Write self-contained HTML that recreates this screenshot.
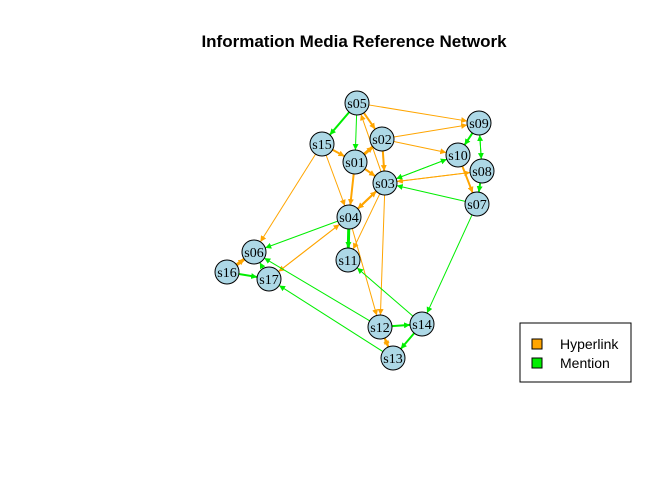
<!DOCTYPE html>
<html><head><meta charset="utf-8"><style>
body{margin:0;background:#fff}
svg text{font-family:"Liberation Serif",serif}
</style></head><body>
<svg id="c" width="672" height="480" xmlns="http://www.w3.org/2000/svg">
<defs>
<marker id="ao" viewBox="0 0 10 10" refX="10" refY="5" markerWidth="6" markerHeight="6" markerUnits="userSpaceOnUse" orient="auto"><path d="M0,0L10,5L0,10z" fill="orange"/></marker>
<marker id="ag" viewBox="0 0 10 10" refX="10" refY="5" markerWidth="6" markerHeight="6" markerUnits="userSpaceOnUse" orient="auto"><path d="M0,0L10,5L0,10z" fill="#00ee00"/></marker>
</defs>
<text x="354" y="47" text-anchor="middle" style="font-family:'Liberation Sans',sans-serif;font-weight:bold;font-size:17px">Information Media Reference Network</text>
<g id="edges"></g>
<g id="nodes"></g>
<g>
<rect x="520" y="323" width="111" height="59" fill="#fff" stroke="#000" stroke-width="1"/>
<rect x="532" y="339" width="10" height="10" fill="orange" stroke="#000"/>
<text x="560" y="349" style="font-family:'Liberation Sans',sans-serif;font-size:14px">Hyperlink</text>
<rect x="532" y="358" width="10" height="10" fill="#00ee00" stroke="#000"/>
<text x="560" y="368" style="font-family:'Liberation Sans',sans-serif;font-size:14px">Mention</text>
</g>
</svg>
<script>
const nodeIds=["s01","s02","s03","s04","s05","s06","s07","s08","s09","s10","s11","s12","s13","s14","s15","s16","s17"];
const nodeX=[355,382,385,349,357,254,477,482,479,458,348,380,393,422,322,227,269];
const nodeY=[162,139,183,217,103,252,204,171,123,155,260,327,358,324,144,272,279];
const edgeFrom=["s05","s05","s03","s02","s02","s02","s15","s01","s01","s01","s15","s15","s03","s04","s03","s03","s04","s04","s17","s08","s03","s10","s16","s13","s12","s05","s05","s09","s08","s09","s08","s07","s10","s03","s04","s04","s16","s17","s12","s13","s14","s07","s12","s14"];
const edgeTo=["s09","s02","s05","s09","s10","s03","s01","s02","s03","s04","s04","s06","s04","s03","s11","s12","s12","s17","s04","s03","s08","s07","s06","s12","s13","s15","s01","s10","s09","s08","s07","s03","s03","s10","s06","s11","s17","s06","s06","s17","s11","s14","s14","s13"];
const edgeType=["h","h","h","h","h","h","h","h","h","h","h","h","h","h","h","h","h","h","h","h","h","h","h","h","h","m","m","m","m","m","m","m","m","m","m","m","m","m","m","m","m","m","m","m"];
const edgeWidth=[1,2,1,1,1,2,2,3,2,2,1,1,2,2,1,1,1,1,1,1,1,2,3,2,2,2,1,2,1,1,2,1,1,1,1,3,2,1,1,1,1,1,2,2];
const NS="http://www.w3.org/2000/svg",R=12;
const eg=document.getElementById('edges'),ng=document.getElementById('nodes');
function pos(id){const i=nodeIds.indexOf(id);return [nodeX[i],nodeY[i]];}
edgeFrom.forEach((f,i)=>{
 const [x1,y1]=pos(f),[x2,y2]=pos(edgeTo[i]);
 const dx=x2-x1,dy=y2-y1,d=Math.hypot(dx,dy),ux=dx/d,uy=dy/d;
 const l=document.createElementNS(NS,'line');
 l.setAttribute('x1',x1+ux*R);l.setAttribute('y1',y1+uy*R);
 l.setAttribute('x2',x2-ux*R);l.setAttribute('y2',y2-uy*R);
 const h=edgeType[i]==='h';
 l.setAttribute('stroke',h?'orange':'#00ee00');
 l.setAttribute('stroke-width',edgeWidth[i]);
 l.setAttribute('marker-end',h?'url(#ao)':'url(#ag)');
 
 
 eg.appendChild(l);
});
nodeIds.forEach((id,i)=>{
 const c=document.createElementNS(NS,'circle');
 c.setAttribute('cx',nodeX[i]);c.setAttribute('cy',nodeY[i]);c.setAttribute('r',R);
 c.setAttribute('fill','#add8e6');c.setAttribute('stroke','#000');
 
 
 ng.appendChild(c);
 const t=document.createElementNS(NS,'text');
 t.setAttribute('x',nodeX[i]);t.setAttribute('y',nodeY[i]+5);
 t.setAttribute('text-anchor','middle');t.setAttribute('font-size','14');
 t.textContent=id;
 
 
 ng.appendChild(t);
});
</script>
</body></html>
